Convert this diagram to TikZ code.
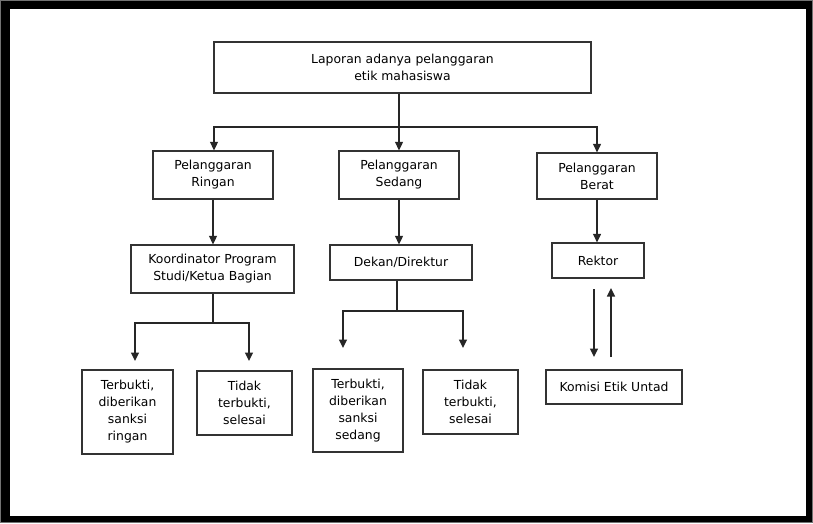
\documentclass[tikz,border=0pt]{standalone}
\usepackage{fontspec}
\setmainfont{DejaVu Sans}
\usetikzlibrary{arrows.meta}
\begin{document}
\begin{tikzpicture}[x=1pt,y=-1pt,
  box/.style={draw=black!80,line width=1.3pt,fill=white,inner sep=0pt,align=center,
    font=\fontsize{12.4}{17}\selectfont},
  conn/.style={line width=1.3pt,draw=black!85},
  arr/.style={conn,-{Triangle[length=8.5pt,width=8pt]}}]
\useasboundingbox (0,0) rectangle (813,523);
\fill[black] (0,0) rectangle (813,523);
\fill[white] (10,9) rectangle (806,516);
\draw[black!55,line width=0.6pt] (0.3,0.3) rectangle (812.7,522.7);

\node[box,minimum width=377pt,minimum height=51pt] (top) at (402.5,67.5) {Laporan adanya pelanggaran\\etik mahasiswa};
\node[box,minimum width=120pt,minimum height=48pt] (ringan) at (213,175) {Pelanggaran\\Ringan};
\node[box,minimum width=120pt,minimum height=48pt] (sedang) at (399,175) {Pelanggaran\\Sedang};
\node[box,minimum width=120pt,minimum height=46pt] (berat) at (597,176) {Pelanggaran\\Berat};
\node[box,minimum width=163pt,minimum height=48pt] (koord) at (212.5,269) {Koordinator Program\\Studi/Ketua Bagian};
\node[box,minimum width=142pt,minimum height=35pt] (dekan) at (401,262.5) {Dekan/Direktur};
\node[box,minimum width=92pt,minimum height=35pt] (rektor) at (598,260.5) {Rektor};
\node[box,minimum width=91pt,minimum height=84pt] (t1) at (127.5,412) {Terbukti,\\diberikan\\sanksi\\ringan};
\node[box,minimum width=95pt,minimum height=64pt] (n1) at (244.5,403) {Tidak\\terbukti,\\selesai};
\node[box,minimum width=90pt,minimum height=83pt] (t2) at (358,410.5) {Terbukti,\\diberikan\\sanksi\\sedang};
\node[box,minimum width=95pt,minimum height=64pt] (n2) at (470.5,402) {Tidak\\terbukti,\\selesai};
\node[box,minimum width=136pt,minimum height=34pt] (komisi) at (614,387) {Komisi Etik Untad};

% level 1 distribution
\coordinate (hl) at (399,127);
\coordinate (hlL) at (214,127);
\coordinate (hlR) at (597,127);
\draw[arr] (top.south -| sedang.north) -- (sedang.north);
\draw[arr] (hl) -- (hlL) -- (hlL |- ringan.north);
\draw[arr] (hl) -- (hlR) -- (hlR |- berat.north);

% level 2
\draw[arr] (ringan) -- (ringan.south |- koord.north);
\draw[arr] (sedang.south) -- (sedang.south |- dekan.north);
\draw[arr] (berat) -- (berat.south |- rektor.north);

% koord fork
\coordinate (kf) at (213,323);
\coordinate (kL) at (135,323);
\coordinate (kR) at (249,323);
\coordinate (kLe) at (135,361);
\coordinate (kRe) at (249,361);
\draw[conn] (koord.south -| kf) -- (kf);
\draw[arr] (kf) -- (kL) -- (kLe);
\draw[arr] (kf) -- (kR) -- (kRe);

% dekan fork
\coordinate (df) at (397,311);
\coordinate (dL) at (343,311);
\coordinate (dR) at (463,311);
\coordinate (dLe) at (343,348);
\coordinate (dRe) at (463,348);
\draw[conn] (dekan.south -| df) -- (df);
\draw[arr] (df) -- (dL) -- (dLe);
\draw[arr] (df) -- (dR) -- (dRe);

% rektor <-> komisi
\coordinate (ra) at (594,289);
\coordinate (rb) at (594,357);
\coordinate (rc) at (611,357);
\coordinate (rd) at (611,288);
\draw[arr] (ra) -- (rb);
\draw[arr] (rc) -- (rd);
\end{tikzpicture}
\end{document}
